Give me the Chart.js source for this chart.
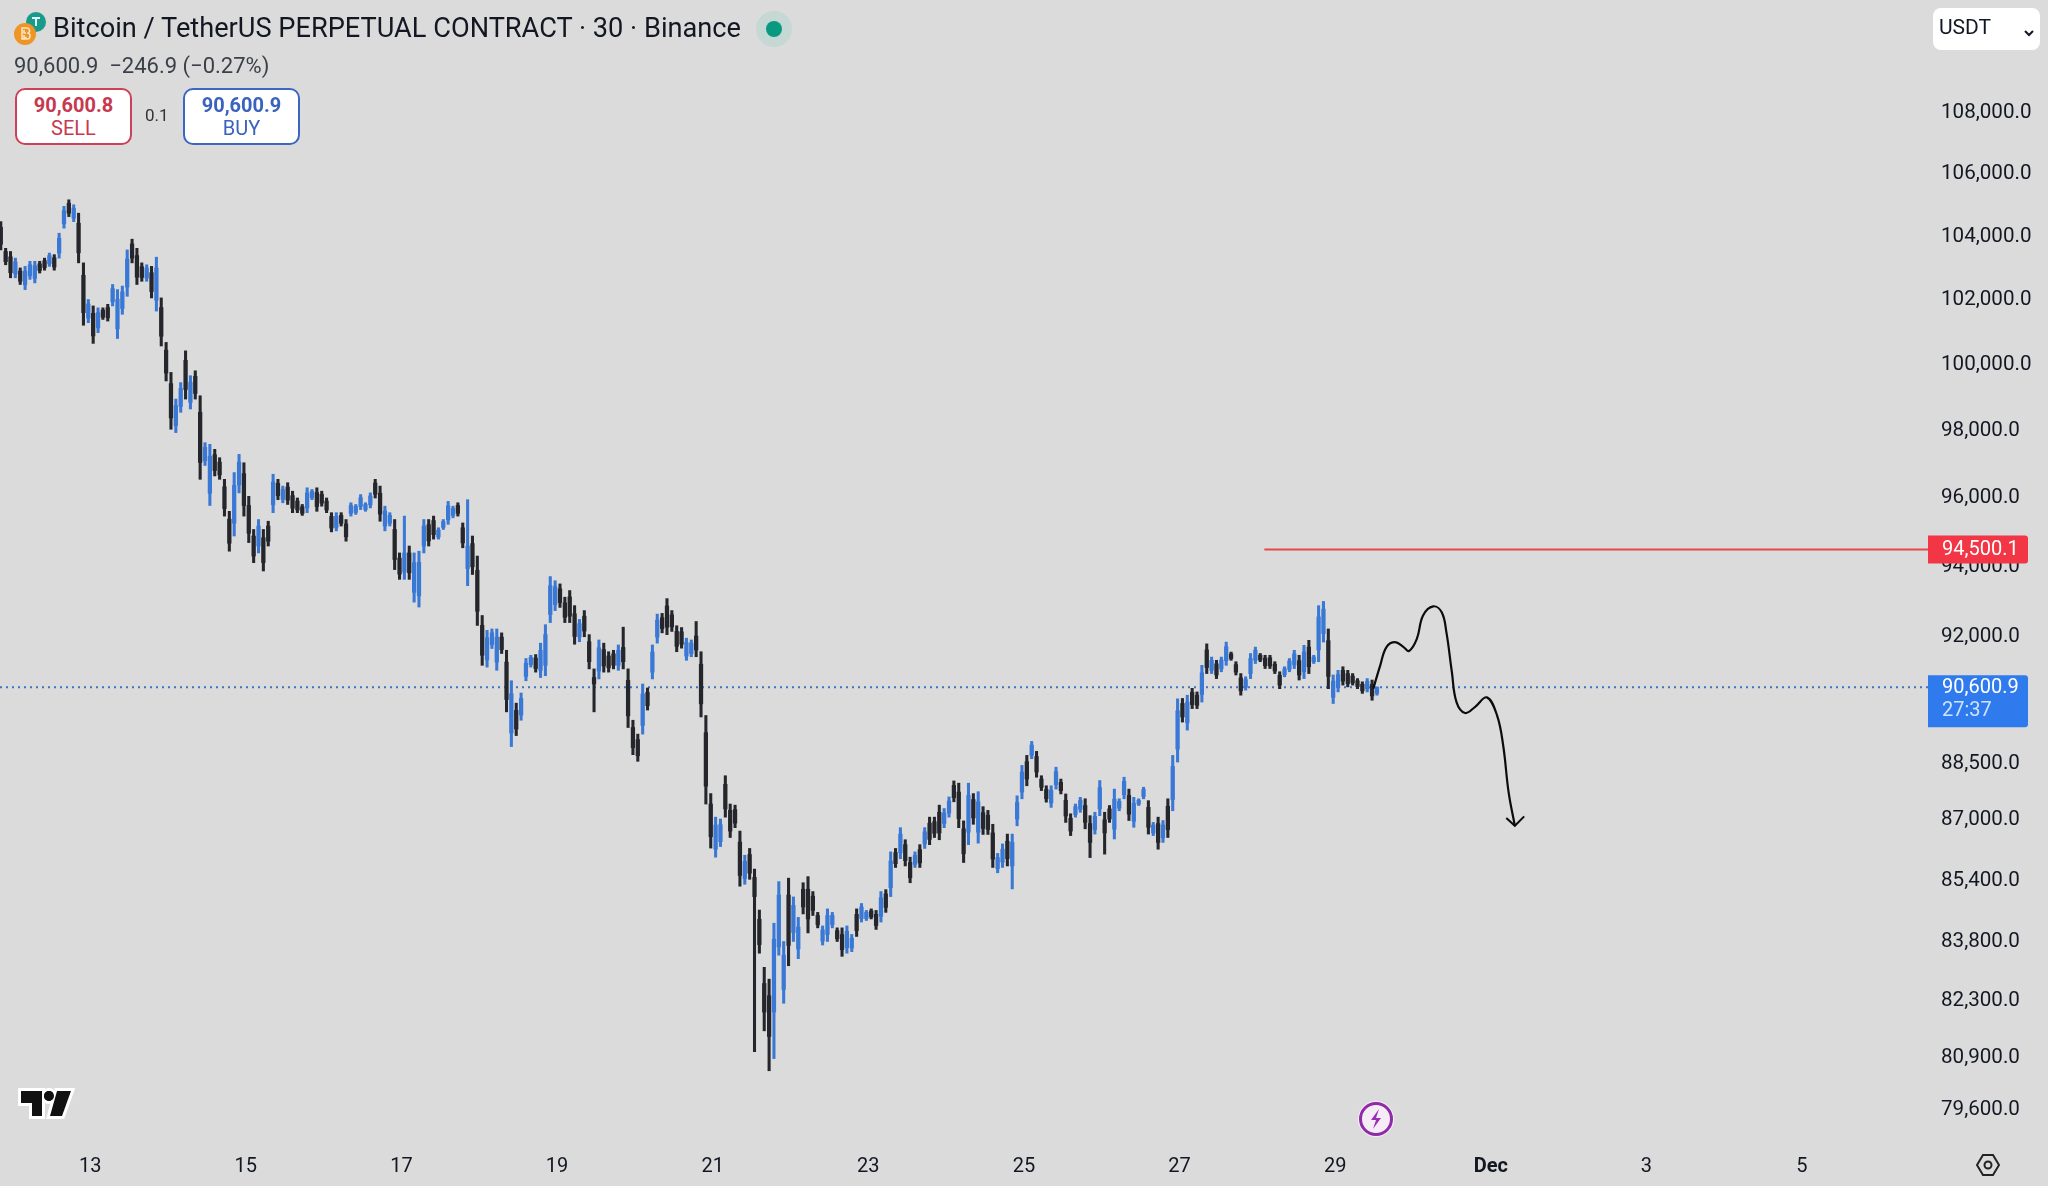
<!DOCTYPE html>
<html>
<head>
<meta charset="utf-8">
<title>BTCUSDT.P</title>
<script src="https://cdn.jsdelivr.net/npm/chart.js@4"></script>
<style>
  html, body { margin: 0; padding: 0; background: #dbdbdb; }
  #page { position: relative; width: 2048px; height: 1186px; overflow: hidden; font-family: Roboto, sans-serif; color: #131722; }
  #page canvas { position: absolute; left: 0; top: 0; }
  #icons { position: absolute; left: 0; top: 0; }
  .txt { position: absolute; white-space: pre; line-height: 1; }
  .btn { position: absolute; top: 88px; width: 113px; height: 53px; background: #fff; border: 2px solid; border-radius: 10px; text-align: center; }
  .btn b { display: block; margin-top: 3px; font-size: 20px; line-height: 24px; font-weight: 700; }
  .btn span { display: block; font-size: 20px; line-height: 22px; }
  #usdt { position: absolute; left: 1933px; top: 8px; width: 107px; height: 42px; background: #fff; border-radius: 8px; }
</style>
</head>
<body>
<div id="page">
  <canvas id="chart-1" width="2048" height="1186"></canvas>
  <svg id="icons" width="2048" height="1186">
    <circle cx="36" cy="22" r="10" fill="#1a9a8a"/>
    <path d="M32 17h8v2h-3v7h-2v-7h-3z" fill="#dff"/>
    <circle cx="25" cy="34" r="11" fill="#ee9526"/>
    <path d="M22 28h4.5a2.5 2.5 0 0 1 1 5a3 3 0 0 1-1 6H22zM24 30v3h2M24 35v2.500h2.500" fill="none" stroke="#fce6c4" stroke-width="1.500"/>
    <circle cx="774" cy="29" r="18" fill="#c5d8d4"/>
    <circle cx="774" cy="29" r="8" fill="#089981"/>
    <path d="M21 1091h21v12h-0v13H32v-13H21z" fill="#111" stroke="#fff" stroke-width="6" paint-order="stroke" stroke-linejoin="miter"/>
    <circle cx="49" cy="1096" r="5" fill="#111" stroke="#fff" stroke-width="6" paint-order="stroke"/>
    <path d="M57 1091h14l-9 25H50z" fill="#111" stroke="#fff" stroke-width="6" paint-order="stroke"/>
    <path d="M21 1091h21v25H32v-13H21z" fill="#111"/>
    <circle cx="49" cy="1096" r="5" fill="#111"/>
    <circle cx="1376" cy="1119" r="18" fill="#f6ecf8"/>
    <circle cx="1376" cy="1119" r="15.500" fill="none" stroke="#8e2ca5" stroke-width="3"/>
    <path d="M1379 1109l-8 11h5l-3 9 8-11h-5z" fill="#9c2eb3"/>
    <path d="M1983 1155h10l6 10-6 10h-10l-6-10z" fill="none" stroke="#222" stroke-width="2"/>
    <circle cx="1988" cy="1165" r="3.500" fill="none" stroke="#222" stroke-width="2"/>
  </svg>
  <div class="txt" style="left:53px;top:15px;font-size:27.2px;">Bitcoin / TetherUS PERPETUAL CONTRACT · 30 · Binance</div>
  <div class="txt" style="left:14px;top:55px;font-size:22px;color:#3c4048;">90,600.9  −246.9 (−0.27%)</div>
  <div class="btn" style="left:15px;border-color:#cc4157;color:#c63a50;"><b>90,600.8</b><span>SELL</span></div>
  <div class="txt" style="left:145px;top:107px;font-size:17px;color:#333;">0.1</div>
  <div class="btn" style="left:183px;border-color:#3b66c2;color:#3a63bd;"><b>90,600.9</b><span>BUY</span></div>
  <div id="usdt">
    <div class="txt" style="left:6px;top:9px;font-size:21px;">USDT</div>
    <svg width="107" height="42" style="position:absolute;left:0;top:0"><path d="M92 23l4 4 4-4" fill="none" stroke="#131722" stroke-width="2"/></svg>
  </div>
</div>
<script>
// 90 minute candles
const firstCandleDay = 11.85;
const candleStepDays = 0.0625;

const candleHigh = [
  104470,103620,103520,103310,103000,103050,103210,103210,103210,103310,
  103470,103420,104100,104960,105170,105010,104740,103160,102010,101810,
  101750,101750,101860,102480,102320,102430,103570,103910,103620,103160,
  103100,103050,103340,102060,100680,99760,98950,99450,100420,99660,
  99810,99050,97640,97590,97440,97190,96550,95610,96750,97290,
  97040,96050,95080,95370,95080,95320,96700,96550,96350,96450,
  96200,96000,95810,96300,96250,96300,96200,96000,95570,95570,
  95570,95370,95860,95810,96100,95860,96150,96550,96350,95760,
  95570,95370,94400,95470,94600,94400,94450,95370,95370,95470,
  95130,95370,95900,95760,95860,95270,95950,94890,94310,92610,
  92190,92230,92230,
  92120,91630,90780,90160,90440,91400,91490,91510,91830,92350,
  93720,93600,93510,93130,93320,92890,92500,92750,92070,91110,
  91920,91830,91590,91630,91780,92280,91110,89690,89310,90690,
  90580,91780,92650,92670,93090,92750,92320,92270,91970,91920,
  92440,91590,89820,87700,87070,87020,88180,87420,87390,86700,
  86060,86240,85700,84630,83160,82860,84290,85370,83820,85460,
  84970,84440,85340,85500,85110,84570,84220,84660,84570,84170,
  84170,84220,84000,84660,84800,84620,84660,84620,85110,85160,
  86150,86240,86790,86470,86010,86150,86340,86790,87070,87070,
  87390,87300,87610,88040,87980,86970,87980,87700,87750,87350,
  87250,86880,86110,
  86360,86620,86620,87640,88460,88730,89110,88840,88180,87910,
  87910,88410,88090,87690,87160,87420,87600,87560,87110,87200,
  88050,87200,87380,87820,87560,88140,87820,87600,87560,87870,
  87510,86930,87070,86980,87560,88730,90280,
  90290,90380,90570,90470,91210,91810,91440,91350,91440,91860,
  91580,91310,90980,90890,91540,91720,91540,91490,91490,91310,
  91030,91170,91400,91630,91490,91770,91910,91490,92890,93010,
  92230,90940,91070,91170,91070,90980,90840,90750,90840,90800,
  90610
];
const candleLow = [
  103570,103100,102690,102690,102480,102320,102640,102530,102840,102930,
  103050,102930,103310,104260,104630,104470,103160,101210,101290,100650,
  100980,101390,101340,101810,100800,101550,102110,103160,102480,102580,
  102580,102060,101650,100570,99500,98040,97940,98550,98950,98650,
  98950,96550,96960,95780,96650,96550,95470,94450,94890,96150,
  95470,94700,94120,94400,93880,94600,95570,95950,95860,95810,
  95570,95570,95490,95570,95950,95610,95760,95570,95010,95040,
  95180,94740,95470,95520,95660,95610,95710,96000,95320,95040,
  95180,93920,93640,93640,93640,92990,92850,94400,94600,94800,
  94800,95080,95230,95420,95470,94550,93460,93780,92330,91210,
  91160,91680,91070,
  91540,89920,88970,89270,89690,90780,91160,91020,90870,90920,
  92410,92750,92840,92410,92410,91800,91870,92010,91110,89920,
  90830,91020,91020,91110,91070,91110,89490,88750,88570,89310,
  89970,90830,91830,92120,92070,92160,91590,91690,91350,91450,
  91450,89780,87420,86250,86010,86290,87070,86530,86790,85250,
  85300,85430,81040,83520,81560,80570,80870,83470,82250,83200,
  83820,83380,84530,84040,84490,84170,83730,83820,84170,83820,
  83440,83520,83560,83950,84320,84360,84400,84130,84320,84570,
  84980,85740,85970,85780,85340,85740,85740,86240,86340,86530,
  86470,86790,87070,87480,86790,85870,86340,86880,86380,86610,
  86610,85740,85600,
  85740,85780,85180,86840,87560,87910,88640,88140,87780,87470,
  87330,87820,87690,86930,86580,87070,87200,86760,86000,86620,
  87110,86090,86930,86490,87240,87560,86980,86800,87380,87560,
  86620,86580,86220,86400,86530,87240,88550,
  89640,89420,90010,90010,90190,90980,90980,90840,91030,91210,
  91350,90940,90380,90520,90840,91260,91310,91120,91120,90980,
  90560,90890,91030,91120,90800,90840,90980,91260,91310,91860,
  90560,90150,90470,90660,90610,90660,90560,90430,90470,90240,
  90380
];
const candleOpen = [
  104290,103520,103350,102810,102900,102470,102750,102670,103130,103230,
  103130,103320,103470,104400,105060,104580,104420,102770,101430,101580,
  101130,101680,101760,101940,101100,101730,102400,103760,103390,103040,
  102680,102850,101990,101760,100440,99420,98150,98730,100130,98850,
  99640,98550,97100,96140,97280,97060,96330,95380,95260,96380,
  96720,95780,94890,94600,94840,95180,95800,96430,95960,96320,
  96070,95910,95740,95710,96010,96160,96110,95910,95460,95140,
  95490,95240,95550,95580,95750,95660,95800,96440,96140,95180,
  95260,95080,94250,93850,94400,93270,93170,94600,95220,95340,
  94860,95140,95360,95490,95780,95130,93950,94670,93900,92330,
  91360,91790,91300,
  92000,91300,89340,89960,89830,90900,91230,91410,91070,91210,
  92640,92920,93370,92970,93140,92660,92000,92590,91870,90870,
  91050,91650,91470,91530,91210,91710,90790,89490,89160,89550,
  90460,91020,92000,92550,92880,92630,92160,92150,91470,91540,
  92030,91240,89350,87420,86220,86420,87950,87250,87270,86410,
  85450,86080,85480,84390,82750,82440,82030,83680,82600,85020,
  84050,83630,85170,85170,84990,84490,83830,84000,84250,84100,
  84000,83660,83650,84520,84410,84410,84610,84520,84470,85050,
  85210,86130,86130,86340,85870,85820,86210,86360,86910,86950,
  87200,86900,87180,87920,87740,86760,86670,87540,86670,87190,
  87120,86650,85710,
  85880,86430,85780,87020,87740,88560,88730,88700,88090,87810,
  87450,87940,88000,87520,87040,87140,87280,87380,86900,86740,
  87290,87000,87290,86750,87310,87670,87650,86960,87420,87620,
  87330,86650,86900,86520,87360,87540,88900,
  90150,89620,90460,90380,90400,91640,91070,91250,91110,91340,
  91530,91230,90860,90600,90980,91350,91490,91410,91420,91240,
  90930,90950,91100,91220,91340,91030,91720,91310,91640,92100,
  91900,90320,90590,91070,90980,90910,90780,90680,90550,90680,
  90430
];
const candleClose = [
  103750,103200,102850,103190,102580,102900,103100,103070,102920,103010,
  103390,103030,103940,104820,104740,104900,103480,101600,101870,100880,
  101600,101460,101440,102350,102020,102250,103280,103310,102710,102700,
  103000,102260,103000,100870,99740,98380,98750,99270,99240,99460,
  99120,97050,97500,97230,96810,96680,95690,94680,96370,97060,
  95780,94970,94310,95180,94120,94740,96470,96070,96250,95940,
  95700,95650,95550,96150,96190,95750,95850,95650,95120,95460,
  95260,94870,95780,95750,96010,95810,96060,96110,95530,95620,
  95490,94210,93790,94400,93830,94120,94130,95180,94750,94930,
  95060,95310,95770,95690,95550,94690,94600,94000,92730,91490,
  91980,92120,92000,
  91650,90260,90420,89450,90290,91270,91430,91120,91630,92070,
  93460,93430,92980,92560,92590,92020,92380,92170,91310,90690,
  91700,91190,91140,91210,91630,91310,89810,88940,88720,90410,
  90090,91580,92480,92240,92280,92290,91740,91800,91850,91830,
  91640,90140,87900,86550,86860,86870,87290,86700,86910,85530,
  85900,85590,84980,83740,82030,81420,83880,85020,83470,83720,
  84750,84190,84710,84400,84620,84250,84120,84490,84490,83890,
  83610,84080,83900,84100,84710,84570,84450,84230,84950,84700,
  85910,85840,86620,85920,85470,86060,85860,86680,86480,86640,
  86650,87180,87500,87590,87030,86100,87650,87050,87480,86770,
  86740,85960,86000,
  86220,85970,86400,87460,88280,88090,89010,88280,87870,87560,
  87790,88290,87780,87100,86700,87350,87520,86930,86400,87090,
  87860,86650,87020,87550,87490,88030,87150,87440,87520,87810,
  86800,86860,86400,86860,86740,88430,89950,
  89780,90190,90120,90100,91000,91150,91350,90940,91360,91730,
  91400,91020,90500,90810,91400,91630,91360,91200,91190,91050,
  90660,91110,91330,91530,90940,91580,91170,91440,92570,92790,
  90900,90770,90950,90770,90700,90720,90620,90500,90760,90360,
  90600.9
];

// the hand drawn path and its arrow head (day, price)
const pathDays = [29.49,29.58,29.66,29.77,29.88,29.95,30.05,30.13,30.26,30.37,30.43,30.50,30.56,30.67,30.80,30.95,31.08,31.16,31.23,31.31];
const pathPrices = [90560,91210,91720,91860,91720,91610,91950,92610,92870,92700,92140,91030,90190,89890,90060,90320,89830,89000,87730,86840];
const arrowDays = [31.20,31.31,31.43];
const arrowPrices = [87050,86840,87090];

const lastPrice = 90600.9;
const levelPrice = 94500.1;
const levelStartDay = 28.09;
const countdown = "27:37";

const priceTicks = [108000,106000,104000,102000,100000,98000,96000,94000,92000,88500,87000,85400,83800,82300,80900,79600];
const dayTicks = [13,15,17,19,21,23,25,27,29,31,33,35];
const dayTickLabels = ["13","15","17","19","21","23","25","27","29","Dec","3","5"];

const xMin = 11.84, xMax = 36.62;
const yMin = 78881, yMax = 111799;

const upColor = "#3a78d6", downColor = "#24262b";

const candleX = candleHigh.map((_, i) => firstCandleDay + i * candleStepDays);
const candleColors = candleOpen.map((o, i) => candleClose[i] >= o ? upColor : downColor);
const fmt = v => v.toLocaleString("en-US", { minimumFractionDigits: 1, maximumFractionDigits: 1 });

// price tags sit over the axis labels
const priceTags = {
  id: "priceTags",
  afterDraw(chart) {
    const { ctx, scales: { y }, chartArea } = chart;
    const left = chartArea.right, w = 100;
    ctx.save();
    ctx.textBaseline = "middle";
    ctx.textAlign = "left";
    ctx.font = "20px Roboto";

    const redY = y.getPixelForValue(levelPrice);
    ctx.fillStyle = "#f23645";
    ctx.beginPath();
    ctx.roundRect(left, redY - 14, w, 28, [0, 3, 3, 0]);
    ctx.fill();
    ctx.fillStyle = "#fff";
    ctx.fillText(fmt(levelPrice), left + 14, redY + 1);

    const blueY = y.getPixelForValue(lastPrice);
    ctx.fillStyle = "#2f7bee";
    ctx.beginPath();
    ctx.roundRect(left, blueY - 12, w, 52, [0, 3, 3, 0]);
    ctx.fill();
    ctx.fillStyle = "#fff";
    ctx.fillText(fmt(lastPrice), left + 14, blueY + 1);
    ctx.fillStyle = "#cfe2ff";
    ctx.fillText(countdown, left + 14, blueY + 24);
    ctx.restore();
  }
};

Chart.defaults.font.family = "Roboto";

const ctx1 = document.getElementById("chart-1").getContext("2d");
const myChart = new Chart(ctx1, {
  type: "bar",
  data: {
    datasets: [
      {
        type: "line",
        label: "Level",
        data: [{ x: levelStartDay, y: levelPrice }, { x: xMax, y: levelPrice }],
        borderColor: "#e5484f",
        borderWidth: 2,
        pointRadius: 0,
        order: 0,
      },
      {
        type: "line",
        label: "Path",
        data: pathDays.map((d, i) => ({ x: d, y: pathPrices[i] })),
        borderColor: "#0c0c0c",
        borderWidth: 2.2,
        pointRadius: 0,
        tension: 0.4,
        order: 0,
      },
      {
        type: "line",
        label: "Arrow",
        data: arrowDays.map((d, i) => ({ x: d, y: arrowPrices[i] })),
        borderColor: "#0c0c0c",
        borderWidth: 2,
        pointRadius: 0,
        order: 0,
      },
      {
        label: "Body",
        data: candleX.map((x, i) => ({ x: x, y: [candleOpen[i], candleClose[i]] })),
        backgroundColor: candleColors,
        grouped: false,
        barPercentage: 1,
        categoryPercentage: 1,
        maxBarThickness: 3.6,
        order: 1,
      },
      {
        label: "Wick",
        data: candleX.map((x, i) => ({ x: x, y: [candleLow[i], candleHigh[i]] })),
        backgroundColor: candleColors,
        grouped: false,
        barPercentage: 1,
        categoryPercentage: 1,
        maxBarThickness: 2.4,
        order: 2,
      },
      {
        type: "line",
        label: "Last",
        data: [{ x: xMin, y: lastPrice }, { x: xMax, y: lastPrice }],
        borderColor: "#3f74c0",
        borderWidth: 2,
        borderDash: [2, 4],
        pointRadius: 0,
        order: 3,
      },
    ],
  },
  options: {
    responsive: false,
    animation: false,
    events: [],
    layout: { padding: 0 },
    plugins: { legend: { display: false }, tooltip: { enabled: false } },
    scales: {
      x: {
        type: "linear",
        min: xMin,
        max: xMax,
        offset: false,
        grid: { display: false, drawTicks: false },
        border: { display: false },
        afterBuildTicks: s => { s.ticks = dayTicks.map(v => ({ value: v })); },
        afterFit: s => { s.height = 46; s.paddingLeft = 0; s.paddingRight = 0; },
        ticks: {
          autoSkip: false,
          maxRotation: 0,
          padding: 15,
          color: "#131722",
          font: c => ({ size: 20, family: "Roboto", weight: c.tick && c.tick.value === 31 ? "bold" : "normal" }),
          callback: v => dayTickLabels[dayTicks.indexOf(v)],
        },
      },
      y: {
        type: "logarithmic",
        position: "right",
        min: yMin,
        max: yMax,
        grid: { display: false, drawTicks: false },
        border: { display: false },
        afterBuildTicks: s => { s.ticks = priceTicks.map(v => ({ value: v })); },
        afterFit: s => { s.width = 120; s.paddingTop = 0; s.paddingBottom = 0; },
        ticks: {
          autoSkip: false,
          padding: 13,
          color: "#131722",
          font: { size: 20.6 },
          callback: v => fmt(v),
        },
      },
    },
  },
  plugins: [priceTags],
});
</script>
</body>
</html>
